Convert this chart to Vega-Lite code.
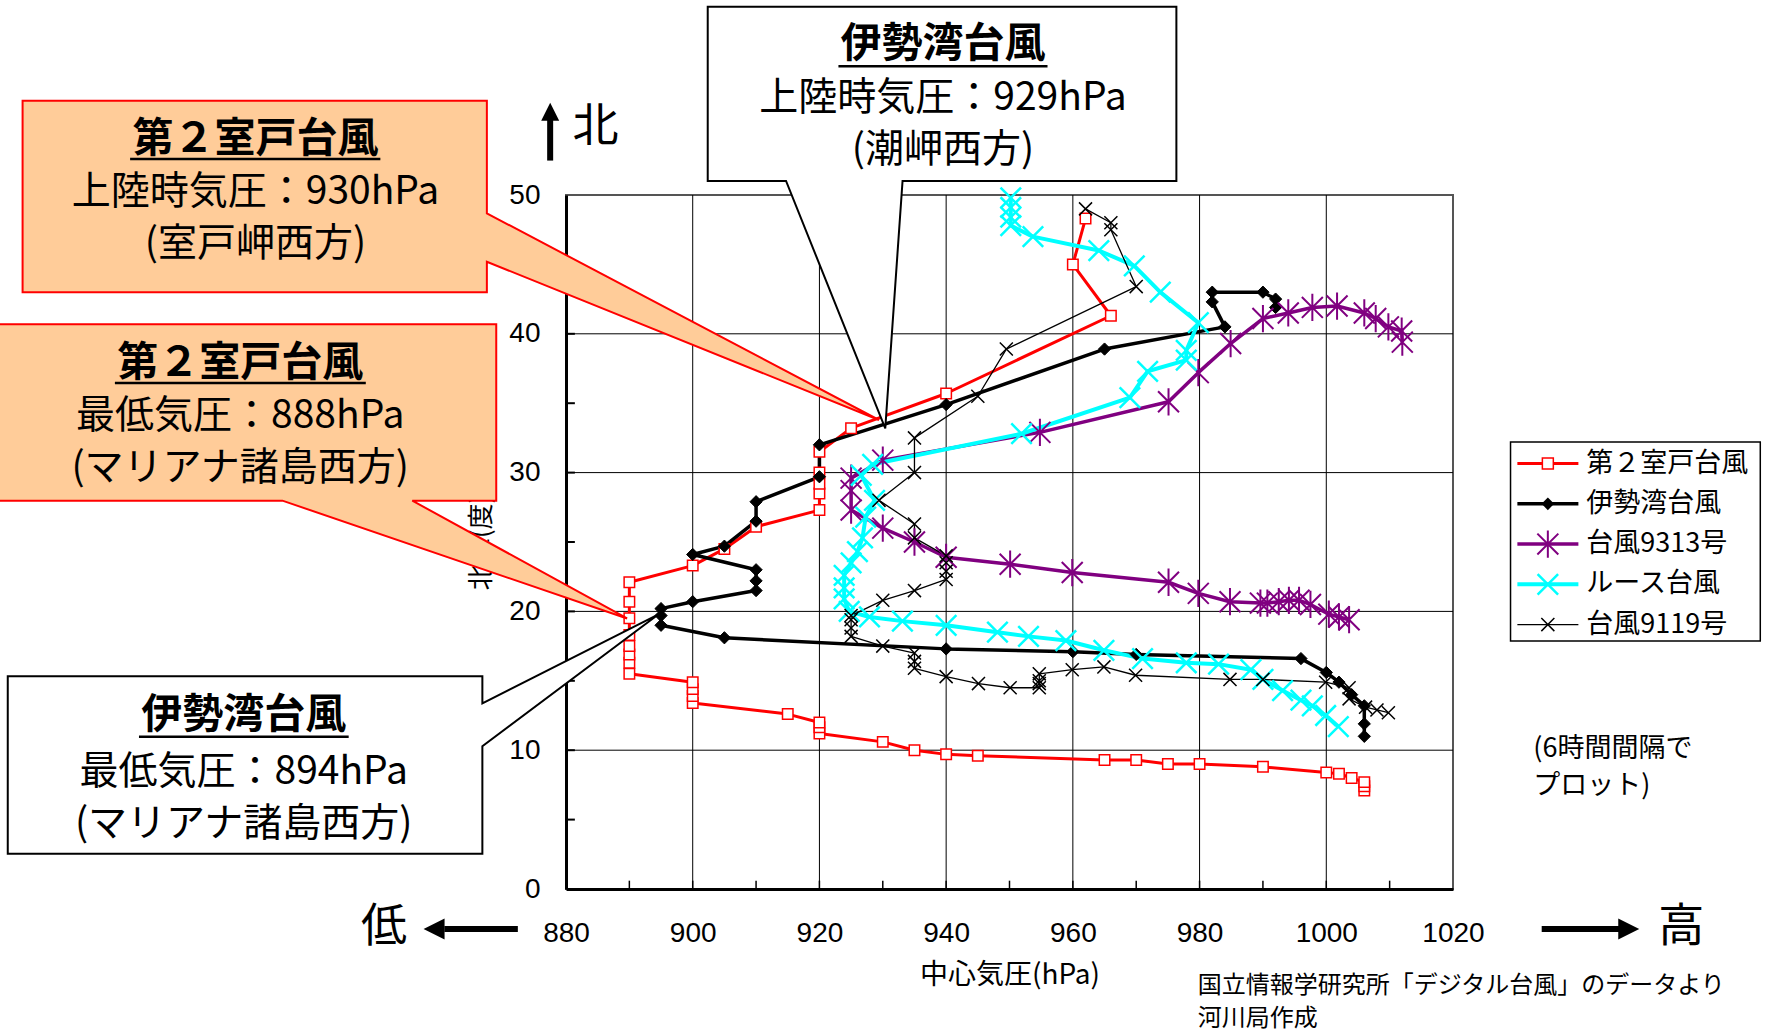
{
  "$schema": "https://vega.github.io/schema/vega-lite/v6.json",
  "width": 887,
  "height": 694,
  "autosize": "none",
  "padding": {"left": 566, "top": 195, "right": 320, "bottom": 145},
  "background": "white",
  "config": {"font": "Noto Sans CJK JP", "view": {"stroke": "#555555", "strokeWidth": 2}},
  "datasets": {
    "tracks": [
      {"name":"第２室戸台風","i":1,"p":1006,"lat":7.1},{"name":"第２室戸台風","i":2,"p":1006,"lat":7.4},{"name":"第２室戸台風","i":3,"p":1006,"lat":7.7},{"name":"第２室戸台風","i":4,"p":1004,"lat":8.0},{"name":"第２室戸台風","i":5,"p":1002,"lat":8.3},{"name":"第２室戸台風","i":6,"p":1000,"lat":8.4},{"name":"第２室戸台風","i":7,"p":990,"lat":8.8},{"name":"第２室戸台風","i":8,"p":980,"lat":9.0},{"name":"第２室戸台風","i":9,"p":975,"lat":9.0},{"name":"第２室戸台風","i":10,"p":970,"lat":9.3},{"name":"第２室戸台風","i":11,"p":965,"lat":9.3},{"name":"第２室戸台風","i":12,"p":945,"lat":9.6},{"name":"第２室戸台風","i":13,"p":940,"lat":9.7},{"name":"第２室戸台風","i":14,"p":935,"lat":10.0},{"name":"第２室戸台風","i":15,"p":930,"lat":10.6},{"name":"第２室戸台風","i":16,"p":920,"lat":11.2},{"name":"第２室戸台風","i":17,"p":920,"lat":11.65},{"name":"第２室戸台風","i":18,"p":920,"lat":12.0},{"name":"第２室戸台風","i":19,"p":915,"lat":12.6},{"name":"第２室戸台風","i":20,"p":900,"lat":13.4},{"name":"第２室戸台風","i":21,"p":900,"lat":13.9},{"name":"第２室戸台風","i":22,"p":900,"lat":14.4},{"name":"第２室戸台風","i":23,"p":900,"lat":14.9},{"name":"第２室戸台風","i":24,"p":890,"lat":15.5},{"name":"第２室戸台風","i":25,"p":890,"lat":16.3},{"name":"第２室戸台風","i":26,"p":890,"lat":16.9},{"name":"第２室戸台風","i":27,"p":890,"lat":17.5},{"name":"第２室戸台風","i":28,"p":890,"lat":18.3},{"name":"第２室戸台風","i":29,"p":890,"lat":19.5},{"name":"第２室戸台風","i":30,"p":890,"lat":20.7},{"name":"第２室戸台風","i":31,"p":890,"lat":22.1},{"name":"第２室戸台風","i":32,"p":900,"lat":23.3},{"name":"第２室戸台風","i":33,"p":905,"lat":24.5},{"name":"第２室戸台風","i":34,"p":910,"lat":26.1},{"name":"第２室戸台風","i":35,"p":920,"lat":27.3},{"name":"第２室戸台風","i":36,"p":920,"lat":28.5},{"name":"第２室戸台風","i":37,"p":920,"lat":29.2},{"name":"第２室戸台風","i":38,"p":920,"lat":30.0},{"name":"第２室戸台風","i":39,"p":920,"lat":31.5},{"name":"第２室戸台風","i":40,"p":925,"lat":33.2},{"name":"第２室戸台風","i":41,"p":940,"lat":35.7},{"name":"第２室戸台風","i":42,"p":966,"lat":41.3},{"name":"第２室戸台風","i":43,"p":960,"lat":45.0},{"name":"第２室戸台風","i":44,"p":962,"lat":48.3},
      {"name":"伊勢湾台風","i":1,"p":1006,"lat":11.0},{"name":"伊勢湾台風","i":2,"p":1006,"lat":11.9},{"name":"伊勢湾台風","i":3,"p":1006,"lat":13.2},{"name":"伊勢湾台風","i":4,"p":1004,"lat":14.0},{"name":"伊勢湾台風","i":5,"p":1002,"lat":14.9},{"name":"伊勢湾台風","i":6,"p":1000,"lat":15.6},{"name":"伊勢湾台風","i":7,"p":996,"lat":16.6},{"name":"伊勢湾台風","i":8,"p":970,"lat":16.9},{"name":"伊勢湾台風","i":9,"p":960,"lat":17.1},{"name":"伊勢湾台風","i":10,"p":940,"lat":17.3},{"name":"伊勢湾台風","i":11,"p":905,"lat":18.1},{"name":"伊勢湾台風","i":12,"p":895,"lat":19.0},{"name":"伊勢湾台風","i":13,"p":895,"lat":19.7},{"name":"伊勢湾台風","i":14,"p":895,"lat":20.2},{"name":"伊勢湾台風","i":15,"p":900,"lat":20.7},{"name":"伊勢湾台風","i":16,"p":910,"lat":21.5},{"name":"伊勢湾台風","i":17,"p":910,"lat":22.2},{"name":"伊勢湾台風","i":18,"p":910,"lat":23.0},{"name":"伊勢湾台風","i":19,"p":900,"lat":24.1},{"name":"伊勢湾台風","i":20,"p":905,"lat":24.7},{"name":"伊勢湾台風","i":21,"p":910,"lat":26.5},{"name":"伊勢湾台風","i":22,"p":910,"lat":27.9},{"name":"伊勢湾台風","i":23,"p":920,"lat":29.7},{"name":"伊勢湾台風","i":24,"p":920,"lat":32.0},{"name":"伊勢湾台風","i":25,"p":940,"lat":34.9},{"name":"伊勢湾台風","i":26,"p":965,"lat":38.9},{"name":"伊勢湾台風","i":27,"p":984,"lat":40.5},{"name":"伊勢湾台風","i":28,"p":982,"lat":42.3},{"name":"伊勢湾台風","i":29,"p":982,"lat":43.0},{"name":"伊勢湾台風","i":30,"p":990,"lat":43.0},{"name":"伊勢湾台風","i":31,"p":992,"lat":42.5},{"name":"伊勢湾台風","i":32,"p":992,"lat":41.9},
      {"name":"台風9313号","i":1,"p":1003.6,"lat":19.4},{"name":"台風9313号","i":2,"p":1002,"lat":19.6},{"name":"台風9313号","i":3,"p":1000.4,"lat":19.8},{"name":"台風9313号","i":4,"p":997.5,"lat":20.5},{"name":"台風9313号","i":5,"p":995.7,"lat":20.8},{"name":"台風9313号","i":6,"p":994.1,"lat":20.8},{"name":"台風9313号","i":7,"p":992.5,"lat":20.7},{"name":"台風9313号","i":8,"p":990.7,"lat":20.6},{"name":"台風9313号","i":9,"p":989.6,"lat":20.6},{"name":"台風9313号","i":10,"p":984.8,"lat":20.7},{"name":"台風9313号","i":11,"p":979.8,"lat":21.3},{"name":"台風9313号","i":12,"p":975.1,"lat":22.1},{"name":"台風9313号","i":13,"p":959.9,"lat":22.8},{"name":"台風9313号","i":14,"p":950.1,"lat":23.4},{"name":"台風9313号","i":15,"p":940,"lat":23.9},{"name":"台風9313号","i":16,"p":935,"lat":25.0},{"name":"台風9313号","i":17,"p":930,"lat":26.0},{"name":"台風9313号","i":18,"p":925,"lat":27.3},{"name":"台風9313号","i":19,"p":925,"lat":28.7},{"name":"台風9313号","i":20,"p":925,"lat":29.6},{"name":"台風9313号","i":21,"p":930,"lat":30.9},{"name":"台風9313号","i":22,"p":954.8,"lat":32.9},{"name":"台風9313号","i":23,"p":975.1,"lat":35.1},{"name":"台風9313号","i":24,"p":979.8,"lat":37.2},{"name":"台風9313号","i":25,"p":984.9,"lat":39.3},{"name":"台風9313号","i":26,"p":990,"lat":41.1},{"name":"台風9313号","i":27,"p":994,"lat":41.5},{"name":"台風9313号","i":28,"p":997.8,"lat":41.9},{"name":"台風9313号","i":29,"p":1001.7,"lat":42.0},{"name":"台風9313号","i":30,"p":1006,"lat":41.5},{"name":"台風9313号","i":31,"p":1007.8,"lat":41.1},{"name":"台風9313号","i":32,"p":1009.8,"lat":40.5},{"name":"台風9313号","i":33,"p":1011.9,"lat":40.2},{"name":"台風9313号","i":34,"p":1012,"lat":39.4},
      {"name":"ルース台風","i":1,"p":1001.9,"lat":11.7},{"name":"ルース台風","i":2,"p":999.9,"lat":12.5},{"name":"ルース台風","i":3,"p":997.8,"lat":13.2},{"name":"ルース台風","i":4,"p":996,"lat":13.6},{"name":"ルース台風","i":5,"p":993.1,"lat":14.3},{"name":"ルース台風","i":6,"p":990,"lat":15.1},{"name":"ルース台風","i":7,"p":988.1,"lat":15.8},{"name":"ルース台風","i":8,"p":983,"lat":16.2},{"name":"ルース台風","i":9,"p":977.9,"lat":16.3},{"name":"ルース台風","i":10,"p":971,"lat":16.6},{"name":"ルース台風","i":11,"p":964.9,"lat":17.2},{"name":"ルース台風","i":12,"p":958.9,"lat":17.9},{"name":"ルース台風","i":13,"p":953,"lat":18.2},{"name":"ルース台風","i":14,"p":948.1,"lat":18.5},{"name":"ルース台風","i":15,"p":940,"lat":19.0},{"name":"ルース台風","i":16,"p":933.1,"lat":19.3},{"name":"ルース台風","i":17,"p":927.9,"lat":19.6},{"name":"ルース台風","i":18,"p":924.7,"lat":20.0},{"name":"ルース台風","i":19,"p":923.9,"lat":20.9},{"name":"ルース台風","i":20,"p":923.9,"lat":21.7},{"name":"ルース台風","i":21,"p":923.9,"lat":22.6},{"name":"ルース台風","i":22,"p":925,"lat":23.5},{"name":"ルース台風","i":23,"p":926,"lat":24.3},{"name":"ルース台風","i":24,"p":926.8,"lat":25.3},{"name":"ルース台風","i":25,"p":927.3,"lat":26.8},{"name":"ルース台風","i":26,"p":928.7,"lat":28.0},{"name":"ルース台風","i":27,"p":926.6,"lat":29.8},{"name":"ルース台風","i":28,"p":928.4,"lat":30.6},{"name":"ルース台風","i":29,"p":951.9,"lat":32.8},{"name":"ルース台風","i":30,"p":969,"lat":35.4},{"name":"ルース台風","i":31,"p":971.8,"lat":37.3},{"name":"ルース台風","i":32,"p":977.9,"lat":38.1},{"name":"ルース台風","i":33,"p":977.9,"lat":38.8},{"name":"ルース台風","i":34,"p":979.8,"lat":40.8},{"name":"ルース台風","i":35,"p":973.8,"lat":43.0},{"name":"ルース台風","i":36,"p":969.7,"lat":44.9},{"name":"ルース台風","i":37,"p":964.1,"lat":46.0},{"name":"ルース台風","i":38,"p":953.7,"lat":47.0},{"name":"ルース台風","i":39,"p":950.2,"lat":47.8},{"name":"ルース台風","i":40,"p":950.2,"lat":48.4},{"name":"ルース台風","i":41,"p":950.2,"lat":49.1},{"name":"ルース台風","i":42,"p":950.2,"lat":49.8},
      {"name":"台風9119号","i":1,"p":1009.8,"lat":12.7},{"name":"台風9119号","i":2,"p":1008,"lat":12.9},{"name":"台風9119号","i":3,"p":1006.2,"lat":13.1},{"name":"台風9119号","i":4,"p":1003.6,"lat":13.7},{"name":"台風9119号","i":5,"p":1003.6,"lat":14.5},{"name":"台風9119号","i":6,"p":999.9,"lat":14.9},{"name":"台風9119号","i":7,"p":990,"lat":15.1},{"name":"台風9119号","i":8,"p":984.8,"lat":15.1},{"name":"台風9119号","i":9,"p":969.9,"lat":15.4},{"name":"台風9119号","i":10,"p":964.9,"lat":16.0},{"name":"台風9119号","i":11,"p":959.9,"lat":15.8},{"name":"台風9119号","i":12,"p":954.7,"lat":15.5},{"name":"台風9119号","i":13,"p":954.7,"lat":15.0},{"name":"台風9119号","i":14,"p":954.7,"lat":14.8},{"name":"台風9119号","i":15,"p":954.7,"lat":14.5},{"name":"台風9119号","i":16,"p":950.1,"lat":14.5},{"name":"台風9119号","i":17,"p":945.1,"lat":14.8},{"name":"台風9119号","i":18,"p":940,"lat":15.3},{"name":"台風9119号","i":19,"p":935,"lat":15.9},{"name":"台風9119号","i":20,"p":935,"lat":16.4},{"name":"台風9119号","i":21,"p":935,"lat":17.0},{"name":"台風9119号","i":22,"p":930,"lat":17.5},{"name":"台風9119号","i":23,"p":925,"lat":18.2},{"name":"台風9119号","i":24,"p":925,"lat":18.8},{"name":"台風9119号","i":25,"p":925,"lat":19.4},{"name":"台風9119号","i":26,"p":925,"lat":19.7},{"name":"台風9119号","i":27,"p":930,"lat":20.8},{"name":"台風9119号","i":28,"p":935,"lat":21.5},{"name":"台風9119号","i":29,"p":940,"lat":22.3},{"name":"台風9119号","i":30,"p":940,"lat":22.9},{"name":"台風9119号","i":31,"p":940,"lat":23.5},{"name":"台風9119号","i":32,"p":940,"lat":24.0},{"name":"台風9119号","i":33,"p":935,"lat":25.3},{"name":"台風9119号","i":34,"p":935,"lat":26.3},{"name":"台風9119号","i":35,"p":929.4,"lat":28.0},{"name":"台風9119号","i":36,"p":935,"lat":30.0},{"name":"台風9119号","i":37,"p":935,"lat":32.5},{"name":"台風9119号","i":38,"p":945,"lat":35.5},{"name":"台風9119号","i":39,"p":949.5,"lat":38.9},{"name":"台風9119号","i":40,"p":970,"lat":43.4},{"name":"台風9119号","i":41,"p":966,"lat":47.5},{"name":"台風9119号","i":42,"p":966,"lat":48.0},{"name":"台風9119号","i":43,"p":962,"lat":49.0}
    ],
    "gridx": [{"v":900},{"v":920},{"v":940},{"v":960},{"v":980},{"v":1000}],
    "gridy": [{"v":10},{"v":20},{"v":30},{"v":40}],
    "ticksx": [{"v":890},{"v":900},{"v":910},{"v":920},{"v":930},{"v":940},{"v":950},{"v":960},{"v":970},{"v":980},{"v":990},{"v":1000},{"v":1010}],
    "ticksy": [{"v":5},{"v":10},{"v":15},{"v":20},{"v":25},{"v":30},{"v":35},{"v":40},{"v":45}],
    "boxes": [
      {"box":"b1","kind":"orange","i":1,"p":794.23,"lat":56.79},{"box":"b1","kind":"orange","i":2,"p":867.51,"lat":56.79},{"box":"b1","kind":"orange","i":3,"p":867.51,"lat":48.68},{"box":"b1","kind":"orange","i":4,"p":929.4,"lat":33.79},{"box":"b1","kind":"orange","i":5,"p":867.51,"lat":45.19},{"box":"b1","kind":"orange","i":6,"p":867.51,"lat":42.99},{"box":"b1","kind":"orange","i":7,"p":794.23,"lat":42.99},
      {"box":"b2","kind":"orange","i":1,"p":790.3,"lat":40.68},{"box":"b2","kind":"orange","i":2,"p":868.99,"lat":40.68},{"box":"b2","kind":"orange","i":3,"p":868.99,"lat":27.98},{"box":"b2","kind":"orange","i":4,"p":855.74,"lat":27.98},{"box":"b2","kind":"orange","i":5,"p":889.64,"lat":19.49},{"box":"b2","kind":"orange","i":6,"p":835.24,"lat":27.98},{"box":"b2","kind":"orange","i":7,"p":790.3,"lat":27.98},
      {"box":"b3","kind":"white","i":1,"p":902.37,"lat":63.57},{"box":"b3","kind":"white","i":2,"p":976.34,"lat":63.57},{"box":"b3","kind":"white","i":3,"p":976.34,"lat":51.01},{"box":"b3","kind":"white","i":4,"p":933.12,"lat":51.01},{"box":"b3","kind":"white","i":5,"p":930.39,"lat":33.19},{"box":"b3","kind":"white","i":6,"p":914.73,"lat":51.01},{"box":"b3","kind":"white","i":7,"p":902.37,"lat":51.01},
      {"box":"b4","kind":"white","i":1,"p":791.89,"lat":15.33},{"box":"b4","kind":"white","i":2,"p":866.8,"lat":15.33},{"box":"b4","kind":"white","i":3,"p":866.8,"lat":13.38},{"box":"b4","kind":"white","i":4,"p":894.67,"lat":19.81},{"box":"b4","kind":"white","i":5,"p":866.8,"lat":10.28},{"box":"b4","kind":"white","i":6,"p":866.8,"lat":2.54},{"box":"b4","kind":"white","i":7,"p":791.89,"lat":2.54}
    ],
    "texts": [
      {"g":"title","t":"第２室戸台風","p":830.98,"lat":53.96},
      {"g":"title","t":"第２室戸台風","p":828.58,"lat":37.82},
      {"g":"title","t":"伊勢湾台風","p":939.5,"lat":60.81},
      {"g":"title","t":"伊勢湾台風","p":829.13,"lat":12.46},
      {"g":"body","t":"上陸時気圧：930hPa","p":830.98,"lat":50.22},
      {"g":"body","t":"(室戸岬西方)","p":830.98,"lat":46.47},
      {"g":"body","t":"最低気圧：888hPa","p":828.58,"lat":34.08},
      {"g":"body","t":"(マリアナ諸島西方)","p":828.58,"lat":30.33},
      {"g":"body","t":"上陸時気圧：929hPa","p":939.5,"lat":56.99},
      {"g":"body","t":"(潮岬西方)","p":939.5,"lat":53.24},
      {"g":"body","t":"最低気圧：894hPa","p":829.13,"lat":8.43},
      {"g":"body","t":"(マリアナ諸島西方)","p":829.13,"lat":4.68},
      {"g":"big","t":"低","p":851.29,"lat":-2.74},
      {"g":"big","t":"高","p":1056.03,"lat":-2.74},
      {"g":"big","t":"北","p":884.65,"lat":54.93},
      {"g":"note","t":"国立情報学研究所「デジタル台風」のデータより","p":979.7,"lat":-6.99},
      {"g":"note","t":"河川局作成","p":979.7,"lat":-9.34},
      {"g":"note6","t":"(6時間間隔で","p":1032.67,"lat":10.12},
      {"g":"note6","t":"プロット)","p":1032.67,"lat":7.44}
    ],
    "underlines": [
      {"p1":811.2,"p2":850.7,"lat":52.6},
      {"p1":808.8,"p2":848.4,"lat":36.45},
      {"p1":923.0,"p2":956.0,"lat":59.28},
      {"p1":812.6,"p2":845.7,"lat":10.97}
    ],
    "shafts": [
      {"p1":860.8,"lat1":-2.88,"p2":872.4,"lat2":-2.88},
      {"p1":1034.0,"lat1":-2.88,"p2":1046.2,"lat2":-2.88},
      {"p1":877.5,"lat1":52.48,"p2":877.5,"lat2":55.5}
    ],
    "heads": [
      {"dir":"left","p":859.18,"lat":-2.88},
      {"dir":"right","p":1047.74,"lat":-2.88},
      {"dir":"up","p":877.5,"lat":56.0}
    ],
    "legend": [
      {"name":"第２室戸台風","lat":30.65},
      {"name":"伊勢湾台風","lat":27.75},
      {"name":"台風9313号","lat":24.85},
      {"name":"ルース台風","lat":21.95},
      {"name":"台風9119号","lat":19.05}
    ]
  },
  "layer": [
    {
      "data": {"name": "gridx"},
      "mark": {"type": "rule", "color": "black", "strokeWidth": 1},
      "encoding": {
        "x": {"field": "v", "type": "quantitative",
          "scale": {"domain": [880, 1020], "nice": false, "zero": false},
          "axis": {"values": [880, 900, 920, 940, 960, 980, 1000, 1020], "format": "d",
            "title": "中心気圧(hPa)", "titleFontSize": 28, "titleFontWeight": "normal", "titleColor": "black", "titlePadding": 14,
            "labelFont": "Liberation Sans", "labelFontSize": 28, "labelColor": "black", "labelPadding": 30, "labelFlush": false,
            "domainColor": "black", "domainWidth": 3, "ticks": false, "grid": false}}
      }
    },
    {
      "data": {"name": "gridy"},
      "mark": {"type": "rule", "color": "black", "strokeWidth": 1},
      "encoding": {
        "y": {"field": "v", "type": "quantitative",
          "scale": {"domain": [0, 50], "nice": false, "zero": false},
          "axis": {"values": [0, 10, 20, 30, 40, 50], "format": "d",
            "title": "北緯(度)", "titleFontSize": 26, "titleFontWeight": "normal", "titleColor": "black", "titlePadding": 14,
            "labelFont": "Liberation Sans", "labelFontSize": 28, "labelColor": "black", "labelPadding": 26, "labelFlush": false,
            "domainColor": "black", "domainWidth": 3, "ticks": false, "grid": false}}
      }
    },
    {
      "data": {"name": "ticksx"},
      "mark": {"type": "rule", "color": "black", "strokeWidth": 1.5},
      "encoding": {
        "x": {"field": "v", "type": "quantitative"},
        "y": {"datum": 0, "type": "quantitative"},
        "y2": {"datum": 0.6}
      }
    },
    {
      "data": {"name": "ticksy"},
      "mark": {"type": "rule", "color": "black", "strokeWidth": 2},
      "encoding": {
        "y": {"field": "v", "type": "quantitative"},
        "x": {"datum": 880, "type": "quantitative"},
        "x2": {"datum": 881.4}
      }
    },
    {
      "data": {"name": "tracks"},
      "mark": {"type": "line", "strokeJoin": "round"},
      "encoding": {
        "x": {"field": "p", "type": "quantitative"},
        "y": {"field": "lat", "type": "quantitative"},
        "order": {"field": "i", "type": "quantitative"},
        "color": {"field": "name", "type": "nominal", "legend": null,
          "scale": {"domain": ["第２室戸台風","伊勢湾台風","台風9313号","ルース台風","台風9119号"], "range": ["#FF0000","#000000","#800080","#00FFFF","#000000"]}},
        "strokeWidth": {"field": "name", "type": "nominal", "legend": null,
          "scale": {"type": "ordinal", "domain": ["第２室戸台風","伊勢湾台風","台風9313号","ルース台風","台風9119号"], "range": [3, 3.5, 3.5, 4, 1.3]}}
      }
    },
    {
      "data": {"name": "tracks"},
      "mark": {"type": "point", "filled": false, "opacity": 1, "fillOpacity": 1, "strokeOpacity": 1},
      "encoding": {
        "x": {"field": "p", "type": "quantitative"},
        "y": {"field": "lat", "type": "quantitative"},
        "stroke": {"field": "name", "type": "nominal", "legend": null,
          "scale": {"domain": ["第２室戸台風","伊勢湾台風","台風9313号","ルース台風","台風9119号"], "range": ["#FF0000","#000000","#800080","#00FFFF","#000000"]}},
        "fill": {"field": "name", "type": "nominal", "legend": null,
          "scale": {"domain": ["第２室戸台風","伊勢湾台風","台風9313号","ルース台風","台風9119号"], "range": ["#FFFFFF","#000000","transparent","transparent","transparent"]}},
        "shape": {"field": "name", "type": "nominal", "legend": null,
          "scale": {"domain": ["第２室戸台風","伊勢湾台風","台風9313号","ルース台風","台風9119号"], "range": ["square","diamond","M-1,-1L1,1M-1,1L1,-1M0,-1.3L0,1.3","M-1,-1L1,1M-1,1L1,-1","M-1,-1L1,1M-1,1L1,-1"]}},
        "size": {"field": "name", "type": "nominal", "legend": null,
          "scale": {"type": "ordinal", "domain": ["第２室戸台風","伊勢湾台風","台風9313号","ルース台風","台風9119号"], "range": [110, 150, 440, 420, 170]}},
        "strokeWidth": {"field": "name", "type": "nominal", "legend": null,
          "scale": {"type": "ordinal", "domain": ["第２室戸台風","伊勢湾台風","台風9313号","ルース台風","台風9119号"], "range": [1.5, 1, 2, 2.5, 1.5]}}
      }
    },
    {
      "data": {"name": "boxes"},
      "transform": [{"filter": "datum.kind === 'orange'"}],
      "mark": {"type": "line", "interpolate": "linear-closed", "fill": "#FFCC99", "stroke": "#FF0000", "strokeWidth": 2},
      "encoding": {
        "x": {"field": "p", "type": "quantitative"},
        "y": {"field": "lat", "type": "quantitative"},
        "detail": {"field": "box", "type": "nominal"},
        "order": {"field": "i", "type": "quantitative"}
      }
    },
    {
      "data": {"name": "boxes"},
      "transform": [{"filter": "datum.kind === 'white'"}],
      "mark": {"type": "line", "interpolate": "linear-closed", "fill": "#FFFFFF", "stroke": "#000000", "strokeWidth": 2},
      "encoding": {
        "x": {"field": "p", "type": "quantitative"},
        "y": {"field": "lat", "type": "quantitative"},
        "detail": {"field": "box", "type": "nominal"},
        "order": {"field": "i", "type": "quantitative"}
      }
    },
    {
      "data": {"name": "underlines"},
      "mark": {"type": "rule", "color": "black", "strokeWidth": 2.5},
      "encoding": {
        "x": {"field": "p1", "type": "quantitative"},
        "x2": {"field": "p2"},
        "y": {"field": "lat", "type": "quantitative"}
      }
    },
    {
      "data": {"name": "texts"},
      "transform": [{"filter": "datum.g === 'title'"}],
      "mark": {"type": "text", "fontSize": 41, "fontWeight": "bold", "align": "center", "baseline": "middle", "color": "black"},
      "encoding": {
        "x": {"field": "p", "type": "quantitative"},
        "y": {"field": "lat", "type": "quantitative"},
        "text": {"field": "t"}
      }
    },
    {
      "data": {"name": "texts"},
      "transform": [{"filter": "datum.g === 'body'"}],
      "mark": {"type": "text", "fontSize": 39, "align": "center", "baseline": "middle", "color": "black"},
      "encoding": {
        "x": {"field": "p", "type": "quantitative"},
        "y": {"field": "lat", "type": "quantitative"},
        "text": {"field": "t"}
      }
    },
    {
      "data": {"name": "texts"},
      "transform": [{"filter": "datum.g === 'big'"}],
      "mark": {"type": "text", "fontSize": 46, "align": "center", "baseline": "middle", "color": "black"},
      "encoding": {
        "x": {"field": "p", "type": "quantitative"},
        "y": {"field": "lat", "type": "quantitative"},
        "text": {"field": "t"}
      }
    },
    {
      "data": {"name": "texts"},
      "transform": [{"filter": "datum.g === 'note'"}],
      "mark": {"type": "text", "fontSize": 24, "align": "left", "baseline": "middle", "color": "black"},
      "encoding": {
        "x": {"field": "p", "type": "quantitative"},
        "y": {"field": "lat", "type": "quantitative"},
        "text": {"field": "t"}
      }
    },
    {
      "data": {"name": "texts"},
      "transform": [{"filter": "datum.g === 'note6'"}],
      "mark": {"type": "text", "fontSize": 27, "align": "left", "baseline": "middle", "color": "black"},
      "encoding": {
        "x": {"field": "p", "type": "quantitative"},
        "y": {"field": "lat", "type": "quantitative"},
        "text": {"field": "t"}
      }
    },
    {
      "data": {"name": "shafts"},
      "mark": {"type": "rule", "color": "black", "strokeWidth": 6},
      "encoding": {
        "x": {"field": "p1", "type": "quantitative"},
        "x2": {"field": "p2"},
        "y": {"field": "lat1", "type": "quantitative"},
        "y2": {"field": "lat2"}
      }
    },
    {
      "data": {"name": "heads"},
      "transform": [{"filter": "datum.dir === 'left'"}],
      "mark": {"type": "point", "shape": "M-1,0L1,-1L1,1Z", "filled": true, "color": "black", "opacity": 1, "size": 441},
      "encoding": {
        "x": {"field": "p", "type": "quantitative"},
        "y": {"field": "lat", "type": "quantitative"}
      }
    },
    {
      "data": {"name": "heads"},
      "transform": [{"filter": "datum.dir === 'right'"}],
      "mark": {"type": "point", "shape": "M1,0L-1,-1L-1,1Z", "filled": true, "color": "black", "opacity": 1, "size": 441},
      "encoding": {
        "x": {"field": "p", "type": "quantitative"},
        "y": {"field": "lat", "type": "quantitative"}
      }
    },
    {
      "data": {"name": "heads"},
      "transform": [{"filter": "datum.dir === 'up'"}],
      "mark": {"type": "point", "shape": "M0,-1L-1,1L1,1Z", "filled": true, "color": "black", "opacity": 1, "size": 324},
      "encoding": {
        "x": {"field": "p", "type": "quantitative"},
        "y": {"field": "lat", "type": "quantitative"}
      }
    },
    {
      "data": {"values": [{"box": "legend"}]},
      "mark": {"type": "rect", "fill": "white", "stroke": "black", "strokeWidth": 1.5},
      "encoding": {
        "x": {"datum": 1029.08, "type": "quantitative"},
        "x2": {"datum": 1068.5},
        "y": {"datum": 32.2, "type": "quantitative"},
        "y2": {"datum": 17.87}
      }
    },
    {
      "data": {"name": "legend"},
      "mark": {"type": "rule"},
      "encoding": {
        "x": {"datum": 1030.16, "type": "quantitative"},
        "x2": {"datum": 1039.79},
        "y": {"field": "lat", "type": "quantitative"},
        "color": {"field": "name", "type": "nominal", "legend": null},
        "strokeWidth": {"field": "name", "type": "nominal", "legend": null,
          "scale": {"type": "ordinal", "domain": ["第２室戸台風","伊勢湾台風","台風9313号","ルース台風","台風9119号"], "range": [3, 3.5, 3.5, 4, 1.3]}}
      }
    },
    {
      "data": {"name": "legend"},
      "transform": [{"filter": "datum.name === '第２室戸台風'"}],
      "mark": {"type": "point", "shape": "square", "filled": false, "fill": "#FFFFFF", "stroke": "#FF0000", "strokeWidth": 1.5, "size": 120, "opacity": 1},
      "encoding": {"x": {"datum": 1034.97, "type": "quantitative"}, "y": {"field": "lat", "type": "quantitative"}}
    },
    {
      "data": {"name": "legend"},
      "transform": [{"filter": "datum.name === '伊勢湾台風'"}],
      "mark": {"type": "point", "shape": "diamond", "filled": true, "color": "#000000", "size": 160, "opacity": 1},
      "encoding": {"x": {"datum": 1034.97, "type": "quantitative"}, "y": {"field": "lat", "type": "quantitative"}}
    },
    {
      "data": {"name": "legend"},
      "transform": [{"filter": "datum.name === '台風9313号'"}],
      "mark": {"type": "point", "shape": "M-1,-1L1,1M-1,1L1,-1M0,-1.3L0,1.3", "filled": false, "stroke": "#800080", "strokeWidth": 2, "size": 440, "opacity": 1},
      "encoding": {"x": {"datum": 1034.97, "type": "quantitative"}, "y": {"field": "lat", "type": "quantitative"}}
    },
    {
      "data": {"name": "legend"},
      "transform": [{"filter": "datum.name === 'ルース台風'"}],
      "mark": {"type": "point", "shape": "M-1,-1L1,1M-1,1L1,-1", "filled": false, "stroke": "#00FFFF", "strokeWidth": 2.5, "size": 420, "opacity": 1},
      "encoding": {"x": {"datum": 1034.97, "type": "quantitative"}, "y": {"field": "lat", "type": "quantitative"}}
    },
    {
      "data": {"name": "legend"},
      "transform": [{"filter": "datum.name === '台風9119号'"}],
      "mark": {"type": "point", "shape": "M-1,-1L1,1M-1,1L1,-1", "filled": false, "stroke": "#000000", "strokeWidth": 1.5, "size": 170, "opacity": 1},
      "encoding": {"x": {"datum": 1034.97, "type": "quantitative"}, "y": {"field": "lat", "type": "quantitative"}}
    },
    {
      "data": {"name": "legend"},
      "mark": {"type": "text", "fontSize": 27, "align": "left", "baseline": "middle", "color": "black"},
      "encoding": {
        "x": {"datum": 1041.04, "type": "quantitative"},
        "y": {"field": "lat", "type": "quantitative"},
        "text": {"field": "name"}
      }
    }
  ],
  "resolve": {"scale": {"strokeWidth": "independent"}}
}
